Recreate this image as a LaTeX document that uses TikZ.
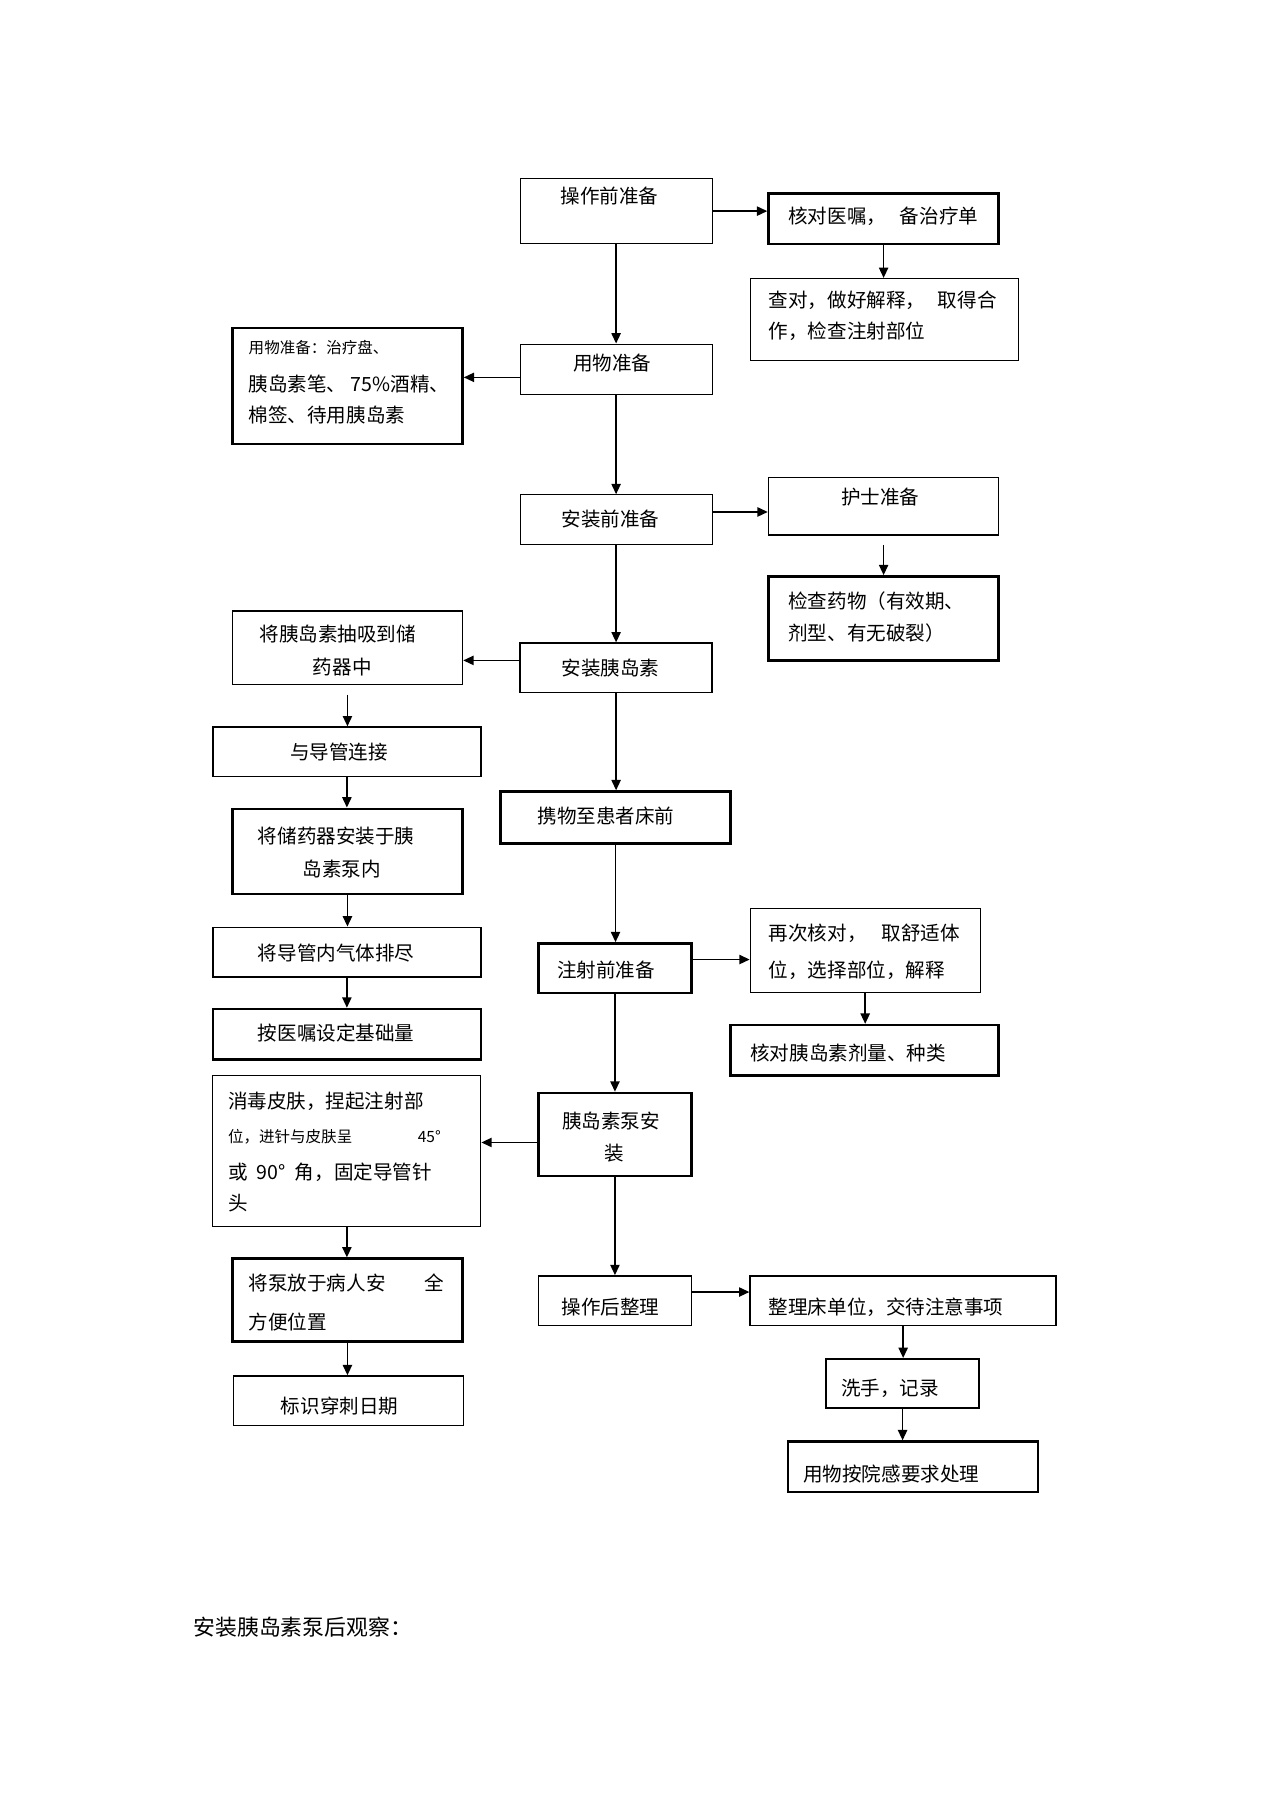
\documentclass[tikz,border=0pt]{standalone}
\usepackage{fontspec}
\setmainfont{Noto Sans CJK SC}
\usetikzlibrary{arrows.meta}
\newcommand\bx[6]{\node[#6, minimum width={#4-#2}, minimum height={#5-#3}] (#1) at ({(#2+#4)/2},{(#3+#5)/2}) {};}
\begin{document}
\begin{tikzpicture}[x=1pt,y=-1pt,
  bthin/.style={draw, line width=0.8pt, inner sep=0pt},
  bmed/.style={draw, line width=1.3pt, inner sep=0pt},
  bthick/.style={draw, line width=2.2pt, inner sep=0pt},
  txt/.style={inner sep=0pt, anchor=west, font=\fontsize{17}{17}\selectfont},
  ctxt/.style={txt, anchor=center},
  stxt/.style={txt, font=\fontsize{13.5}{13.5}\selectfont},
  arr/.style={line width=1.5pt, -{Triangle[length=9pt,width=8pt]}}]
\useasboundingbox[fill=white] (0,0) rectangle (1107,1568);
% boxes
\bx{b1}{452}{155}{619}{212}{bthin}
\bx{b2}{668}{168}{868}{212}{bthick}
\bx{b3}{652}{242}{885}{313}{bthin}
\bx{b4}{452}{299}{619}{343}{bthin}
\bx{b5}{202}{285}{402}{386}{bthick}
\bx{b6}{452}{430}{619}{473}{bthin}
\bx{b7}{668}{415}{868}{465}{bmed}
\bx{b8}{668}{501}{868}{574}{bthick}
\bx{b9}{202}{531}{402}{595}{bmed}
\bx{b10}{452}{559}{619}{602}{bmed}
\bx{b11}{185}{632}{418}{675}{bmed}
\bx{b12}{435}{688}{635}{733}{bthick}
\bx{b13}{202}{703}{402}{777}{bthick}
\bx{b14}{185}{806}{418}{849}{bmed}
\bx{b15}{468}{820}{601}{863}{bthick}
\bx{b16}{652}{790}{852}{863}{bthin}
\bx{b17}{185}{877}{418}{921}{bthick}
\bx{b18}{635}{891}{868}{935}{bthick}
\bx{b19}{185}{935}{418}{1066}{bthin}
\bx{b20}{468}{950}{601}{1022}{bthick}
\bx{b21}{202}{1094}{402}{1166}{bthick}
\bx{b22}{468}{1109}{601}{1152}{bmed}
\bx{b23}{652}{1109}{918}{1152}{bmed}
\bx{b24}{203}{1196}{403}{1239}{bmed}
\bx{b25}{718}{1181}{851}{1224}{bmed}
\bx{b26}{685}{1253}{902}{1297}{bthick}
% texts
\node[txt] (t1) at (487,170) {操作前准备};
\node[txt] (t2) at (685,188) {核对医嘱，\hspace{12pt}备治疗单};
\node[txt] (t3a) at (668,261) {查对，做好解释，\hspace{11pt}取得合};
\node[txt] (t3b) at (668,288) {作，检查注射部位};
\node[txt] (t4) at (498,316) {用物准备};
\node[stxt] (t5a) at (216,302) {用物准备：治疗盘、};
\node[txt] (t5b) at (216,334) {胰岛素笔、 75\%酒精、};
\node[txt] (t5c) at (216,361) {棉签、待用胰岛素};
\node[txt] (t6) at (488,451) {安装前准备};
\node[txt] (t7) at (731,432) {护士准备};
\node[txt] (t8a) at (685,522) {检查药物（有效期、};
\node[txt] (t8b) at (685,550) {剂型、有无破裂）};
\node[ctxt] (t9a) at (293.5,551) {将胰岛素抽吸到储};
\node[ctxt] (t9b) at (297.5,580) {药器中};
\node[txt] (t10) at (488,581) {安装胰岛素};
\node[txt] (t11) at (252,654) {与导管连接};
\node[txt] (t12) at (467,709) {携物至患者床前};
\node[txt] (t13a) at (224,727) {将储药器安装于胰};
\node[txt] (t13b) at (263,755) {岛素泵内};
\node[txt] (t14) at (224,828) {将导管内气体排尽};
\node[txt] (t15) at (484,843) {注射前准备};
\node[txt] (t16a) at (668,811) {再次核对，\hspace{13pt}取舒适体};
\node[txt] (t16b) at (668,843) {位，选择部位，解释};
\node[txt] (t17) at (224,898) {按医嘱设定基础量};
\node[txt] (t18) at (652,915) {核对胰岛素剂量、种类};
\node[txt] (t19a) at (198,957) {消毒皮肤，捏起注射部};
\node[stxt] (t19b) at (198,988) {位，进针与皮肤呈};
\node[stxt] (t19c) at (363,988) {45°};
\node[txt] (t19d) at (198,1019) {或\hspace{8pt}90°\hspace{8pt}角，固定导管针};
\node[txt] (t19e) at (198,1046) {头};
\node[ctxt] (t20a) at (531,974) {胰岛素泵安};
\node[ctxt] (t20b) at (534,1002) {装};
\node[txt] (t21a) at (216,1115) {将泵放于病人安\hspace{34pt}全};
\node[txt] (t21b) at (216,1149) {方便位置};
\node[txt] (t22) at (488,1136) {操作后整理};
\node[txt] (t23) at (668,1136) {整理床单位，交待注意事项};
\node[txt] (t24) at (244,1222) {标识穿刺日期};
\node[txt] (t25) at (731,1207) {洗手，记录};
\node[txt] (t26) at (698,1281) {用物按院感要求处理};
\node[txt, font=\fontsize{19}{19}\selectfont] (t27) at (168,1414) {安装胰岛素泵后观察：};
% arrows
\draw[arr] (b1.east) -- (b1.east -| b2.west);
\draw[arr] (b2.south) -- (b2.south |- b3.north);
\draw[arr] (b1.south) -- (b4.north);
\draw[arr] ([yshift=-7pt]b4.west) -- ([yshift=-7pt]b4.west -| b5.east);
\draw[arr] (b4.south) -- (b6.north);
\draw[arr] ([yshift=6.5pt]b6.east) -- ([yshift=6.5pt]b6.east -| b7.west);
\draw[arr] ([yshift=-8pt]b7.south) -- (b7.south |- b8.north);
\draw[arr] (b6.south) -- (b10.north);
\draw[arr] ([yshift=6.5pt]b10.west) -- ([yshift=6.5pt]b10.west -| b9.east);
\draw[arr] ([yshift=-8pt]b9.south) -- (b9.south |- b11.north);
\draw[arr] (b11.south) -- (b11.south |- b13.north);
\draw[arr] (b13.south) -- (b13.south |- b14.north);
\draw[arr] (b14.south) -- (b14.south |- b17.north);
\draw[arr] (b10.south) -- (b10.south |- b12.north);
\draw[arr] (b12.south) -- (b12.south |- b15.north);
\draw[arr] ([yshift=7.5pt]b15.east) -- ([yshift=7.5pt]b15.east -| b16.west);
\draw[arr] (b16.south) -- (b16.south |- b18.north);
\draw[arr] (b15.south) -- (b15.south |- b20.north);
\draw[arr] ([yshift=-7pt]b20.west) -- ([yshift=-7pt]b20.west -| b19.east);
\draw[arr] (b19.south) -- (b19.south |- b21.north);
\draw[arr] (b21.south) -- (b21.south |- b24.north);
\draw[arr] (b20.south) -- (b20.south |- b22.north);
\draw[arr] ([yshift=7.5pt]b22.east) -- ([yshift=7.5pt]b22.east -| b23.west);
\draw[arr] (b23.south) -- (b23.south |- b25.north);
\draw[arr] (b25.south) -- (b25.south |- b26.north);
\end{tikzpicture}
\end{document}
